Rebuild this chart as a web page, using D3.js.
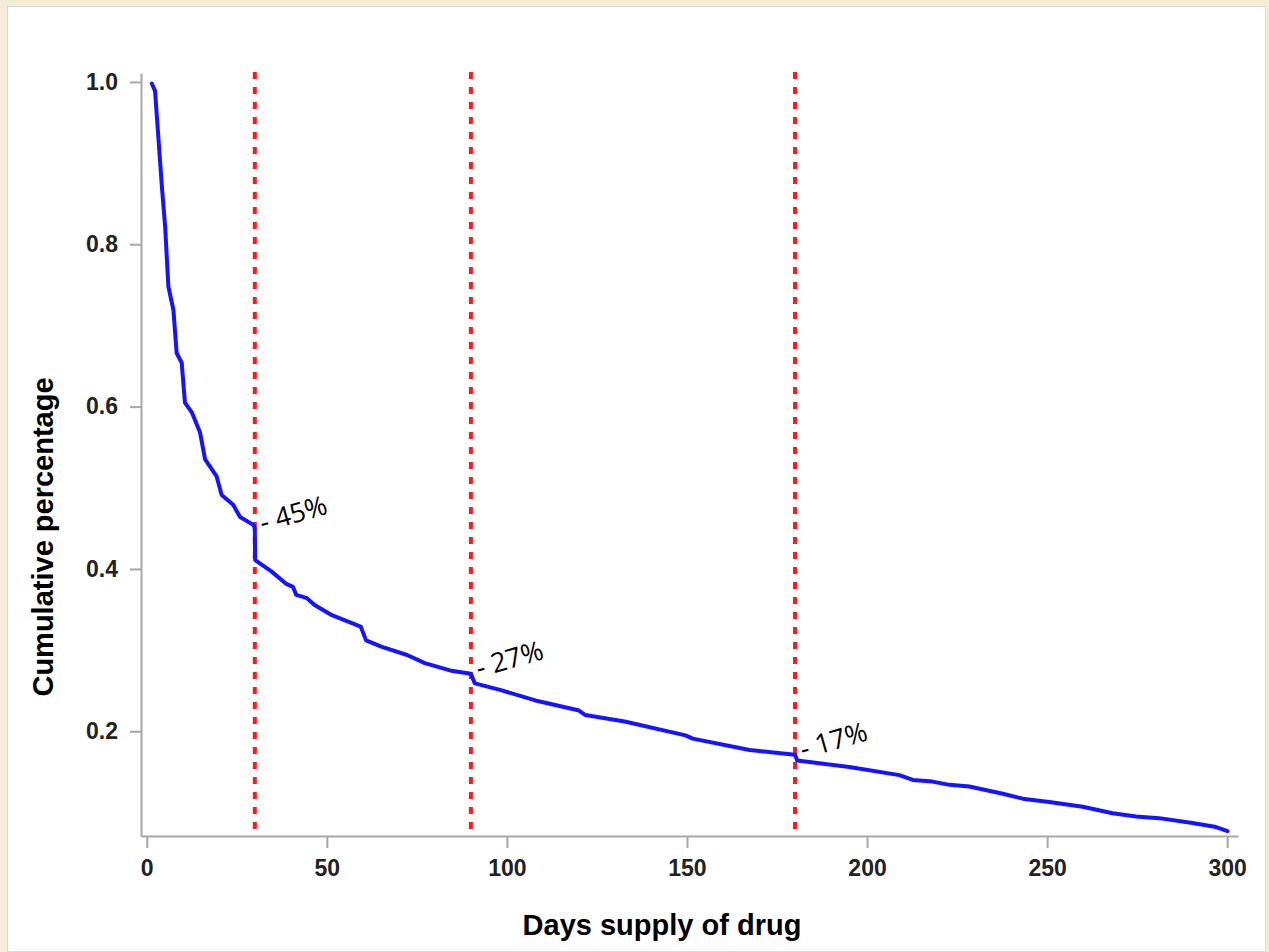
<!DOCTYPE html>
<html>
<head>
<meta charset="utf-8">
<script src="https://cdn.jsdelivr.net/npm/d3@7"></script>
<style>
  html, body { margin: 0; padding: 0; background: #f5ecd8; }
  #frame {
    position: absolute; left: 7px; top: 6px; width: 1257px; height: 944px;
    background: #fff; border: 1px solid #d9d9d9;
  }
  svg { position: absolute; left: 0; top: 0; }
</style>
</head>
<body>
<div id="frame"></div>
<svg id="svg" width="1269" height="952"></svg>
<script>
// days supply (x) and cumulative percentage (y)
const days = [1.4, 2.3, 3.2, 4.2, 5.1, 6.0, 7.4, 8.3, 9.7, 10.6, 12.5, 14.8, 16.2, 19.4, 20.8, 24.0, 25.9,
  29.7, 30.0, 30.1, 34.6, 38.6, 40.6, 41.5, 44.5, 46.5, 51.4, 59.4, 60.9, 65.3, 72.3, 77.2, 84.2,
  90.0, 91.1, 98.1, 107.9, 119.8, 121.8, 132.7, 149.6, 151.6, 167.4, 180.0, 180.6, 195.1, 209.0,
  212.7, 218.2, 222.9, 228.4, 237.7, 243.2, 250.6, 259.9, 268.2, 274.7, 281.1, 290.4, 296.9, 300.1];
const cumPct = [0.998, 0.989, 0.933, 0.871, 0.822, 0.748, 0.719, 0.666, 0.654, 0.605, 0.593, 0.568, 0.535, 0.514, 0.491, 0.479, 0.464,
  0.454, 0.450, 0.411, 0.397, 0.382, 0.378, 0.368, 0.364, 0.356, 0.343, 0.329, 0.312, 0.304, 0.294, 0.284, 0.275,
  0.271, 0.259, 0.251, 0.238, 0.226, 0.220, 0.212, 0.195, 0.191, 0.177, 0.171, 0.164, 0.156, 0.146,
  0.140, 0.138, 0.134, 0.132, 0.123, 0.117, 0.113, 0.107, 0.099, 0.095, 0.093, 0.087, 0.082, 0.077];

const cutoffDays = [30, 90, 180];
const cutoffLabels = ['- 45%', '- 27%', '- 17%'];
const cutoffValues = [0.45, 0.271, 0.171];

const xTicks = [0, 50, 100, 150, 200, 250, 300];
const yTicks = [0.2, 0.4, 0.6, 0.8, 1.0];

const data = days.map((d, i) => ({ day: d, value: cumPct[i] }));

const svg = d3.select('#svg');
const plotLeft = 141, plotRight = 1238, plotTop = 73, plotBottom = 836;

const x = d3.scaleLinear().domain([-1.6, 303]).range([plotLeft, plotRight]);
const y = d3.scaleLinear().domain([0.071, 1.011]).range([plotBottom, plotTop]);

const axisColor = '#a8a8a8';
const labelFont = '"Liberation Sans", Arial, sans-serif';

// x axis
const gx = svg.append('g')
  .attr('transform', 'translate(0,' + plotBottom + ')')
  .call(d3.axisBottom(x).tickValues(xTicks).tickSize(12).tickSizeOuter(0).tickPadding(12));
gx.select('.domain').attr('stroke', axisColor).attr('stroke-width', 2);
gx.selectAll('.tick line').attr('stroke', axisColor).attr('stroke-width', 2);
gx.selectAll('.tick text')
  .attr('fill', '#222').style('font', 'bold 23px ' + labelFont);

// y axis
const gy = svg.append('g')
  .attr('transform', 'translate(' + plotLeft + ',0)')
  .call(d3.axisLeft(y).tickValues(yTicks).tickFormat(d3.format('.1f')).tickSize(11).tickSizeOuter(0).tickPadding(12));
gy.select('.domain').attr('stroke', axisColor).attr('stroke-width', 2);
gy.selectAll('.tick line').attr('stroke', axisColor).attr('stroke-width', 2);
gy.selectAll('.tick text')
  .attr('fill', '#222').style('font', 'bold 23px ' + labelFont);

// axis titles
svg.append('text')
  .attr('x', 662).attr('y', 935)
  .attr('text-anchor', 'middle')
  .style('font', 'bold 29px ' + labelFont)
  .attr('fill', '#000')
  .text('Days supply of drug');

svg.append('text')
  .attr('transform', 'translate(53,537) rotate(-90)')
  .attr('text-anchor', 'middle')
  .style('font', 'bold 29px ' + labelFont)
  .attr('fill', '#000')
  .text('Cumulative percentage');

// red cutoff lines
svg.selectAll('line.cutoff')
  .data(cutoffDays)
  .enter()
  .append('line')
    .attr('class', 'cutoff')
    .attr('x1', d => x(d)).attr('x2', d => x(d))
    .attr('y1', plotTop - 1).attr('y2', plotBottom)
    .attr('stroke', '#ff1a1a')
    .attr('stroke-width', 4)
    .attr('stroke-dasharray', '7,8');

// cumulative curve
svg.append('path')
  .datum(data)
  .attr('fill', 'none')
  .attr('stroke', '#1414ff')
  .attr('stroke-width', 4)
  .attr('stroke-linejoin', 'round')
  .attr('stroke-linecap', 'round')
  .attr('d', d3.line()
    .x(d => x(d.day))
    .y(d => y(d.value)));

// percentage labels
svg.selectAll('text.pct')
  .data(cutoffDays)
  .enter()
  .append('text')
    .attr('class', 'pct')
    .attr('transform', (d, i) => 'translate(' + (x(d) + 8) + ',' + (y(cutoffValues[i]) + 4) + ') rotate(-16)')
    .style('font', '27px "Open Sans", "Noto Sans", sans-serif')
    .attr('fill', '#000')
    .text((d, i) => cutoffLabels[i]);
</script>
</body>
</html>
